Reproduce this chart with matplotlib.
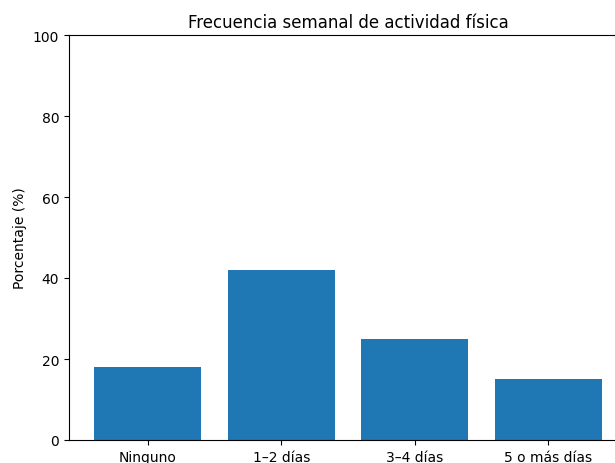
import matplotlib
matplotlib.use("Agg")
import matplotlib.pyplot as plt

categorias = ["Ninguno", "1\u20132 d\u00edas", "3\u20134 d\u00edas", "5 o m\u00e1s d\u00edas"]
porcentajes = [18, 42, 25, 15]

fig = plt.figure(figsize=(6.15, 4.64), dpi=100)
# the reference is a crop: axes run past the right edge of the picture
ax = fig.add_axes([69 / 615, 23 / 464, 558 / 615, 405 / 464])
ax.bar(categorias, porcentajes, color="#1f77b4", width=0.8)
ax.set_ylim(0, 100)
ax.set_ylabel("Porcentaje (%)")
ax.set_title("Frecuencia semanal de actividad f\u00edsica")

fig.savefig("out.png", dpi=100)
